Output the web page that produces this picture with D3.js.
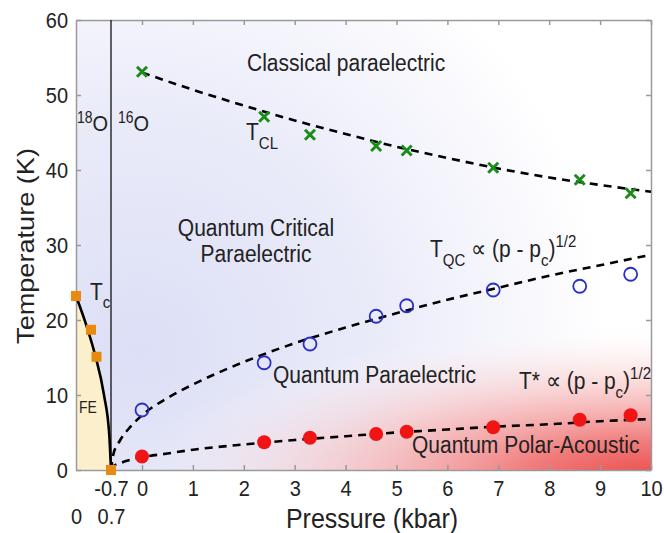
<!DOCTYPE html>
<html>
<head>
<meta charset="utf-8">
<script src="https://cdn.jsdelivr.net/npm/d3@7"></script>
<style>
  body { margin: 0; background: #fff; }
  text { font-family: "Liberation Sans", Arial, sans-serif; fill: #222; }
</style>
</head>
<body>
<div id="chart"></div>
<script>
// measured points (16O sample, pressure in kbar)
var pMeas = [0, 2.4, 3.3, 4.6, 5.2, 6.9, 8.6, 9.6];
var tCL   = [53.1, 47.1, 44.7, 43.2, 42.6, 40.3, 38.7, 36.9];
var tQC   = [8.0, 14.3, 16.8, 20.5, 21.9, 24.0, 24.5, 26.1];
var tStar = [1.8, 3.7, 4.3, 4.8, 5.1, 5.7, 6.7, 7.3];

// ferroelectric Tc points (18O side)
var pFE = [-1.4, -1.1, -0.99, -0.7];
var tFE = [23.2, 18.7, 15.1, 0];

// Tc boundary line
var pTcLine = [-1.4, -1.174, -1.02, -0.84, -0.734, -0.7];
var tTcLine = [23.2, 18.9, 15.4, 10, 4.6, 0];

// dashed guide curves
var pFitCL = [0, 1, 2, 3, 4, 5, 6, 7, 8, 9, 10];
var tFitCL = [53, 50.7, 48.6, 46.6, 44.8, 43.1, 41.6, 40.2, 39.0, 38.0, 37.1];
var pFit = [-0.7, -0.65, -0.5, -0.3, 0, 0.5, 1, 2, 3, 4, 5, 6, 7, 8, 9, 10];
var tFitQC = [0, 2.0, 3.9, 5.5, 7.3, 9.6, 11.4, 14.4, 16.9, 19.0, 20.9, 22.7, 24.3, 25.9, 27.3, 28.7];
var tFitStar = [0, 0.5, 0.9, 1.3, 1.7, 2.2, 2.7, 3.4, 4.0, 4.5, 5.0, 5.4, 5.8, 6.1, 6.5, 6.8];

var xTicks = [-0.7, 0, 1, 2, 3, 4, 5, 6, 7, 8, 9, 10];
var xTicks18 = [0, 0.7];
var yTicks = [0, 10, 20, 30, 40, 50, 60];

var w = 664, h = 533;
var mLeft = 76, mRight = 651, mTop = 20, mBottom = 470;
var stretch = 1.13; // text in the picture is a bit tall

var svg = d3.select("#chart").append("svg")
    .attr("width", w).attr("height", h);

// the 18O part is squeezed, so the scale is piecewise
var x = d3.scaleLinear().domain([-1.4, -0.7, 0, 10]).range([mLeft, 111, 142, mRight]);
var x18 = d3.scaleLinear().domain([0, 0.7]).range([mLeft, 111]);
var y = d3.scaleLinear().domain([0, 60]).range([mBottom, mTop]);

var defs = svg.append("defs");
defs.append("clipPath").attr("id", "plot")
    .append("rect").attr("x", mLeft).attr("y", mTop)
    .attr("width", mRight - mLeft).attr("height", mBottom - mTop);

var blue = defs.append("radialGradient").attr("id", "blue")
    .attr("gradientUnits", "userSpaceOnUse")
    .attr("cx", 140).attr("cy", 350).attr("r", 470);
blue.append("stop").attr("offset", "0%").attr("stop-color", "#dcdff6");
blue.append("stop").attr("offset", "50%").attr("stop-color", "#eaebf9");
blue.append("stop").attr("offset", "100%").attr("stop-color", "#ffffff");

var red = defs.append("radialGradient").attr("id", "red")
    .attr("gradientUnits", "userSpaceOnUse")
    .attr("cx", mRight).attr("cy", mBottom + 10).attr("r", 520)
    .attr("gradientTransform", "translate(" + mRight + "," + (mBottom + 10) + ") scale(1,0.3) translate(" + (-mRight) + "," + (-(mBottom + 10)) + ")");
red.append("stop").attr("offset", "0%").attr("stop-color", "#ec4848").attr("stop-opacity", 1);
red.append("stop").attr("offset", "25%").attr("stop-color", "#f07676").attr("stop-opacity", 0.95);
red.append("stop").attr("offset", "55%").attr("stop-color", "#f7b4b4").attr("stop-opacity", 0.7);
red.append("stop").attr("offset", "80%").attr("stop-color", "#fbdede").attr("stop-opacity", 0.35);
red.append("stop").attr("offset", "100%").attr("stop-color", "#ffffff").attr("stop-opacity", 0);

var bg = svg.append("g").attr("clip-path", "url(#plot)");
bg.append("rect").attr("x", mLeft).attr("y", mTop)
    .attr("width", mRight - mLeft).attr("height", mBottom - mTop)
    .attr("fill", "url(#blue)");
bg.append("rect").attr("x", mLeft).attr("y", mTop)
    .attr("width", mRight - mLeft).attr("height", mBottom - mTop)
    .attr("fill", "url(#red)");

// FE region under Tc line
var feArea = d3.area()
    .x(function(d){ return x(d[0]); })
    .y0(y(0))
    .y1(function(d){ return y(d[1]); })
    .curve(d3.curveMonotoneX);
bg.append("path")
    .datum(d3.zip(pTcLine, tTcLine))
    .attr("d", feArea)
    .attr("fill", "#fcefcb");

// axes (box with inward ticks)
function styleAxis(g){
    g.selectAll("path, line").attr("stroke", "#9a9a9a").attr("stroke-width", 1.5);
    g.selectAll("text").attr("fill", "#222").style("font-size", "20px")
        .style("font-family", "Liberation Sans, Arial, sans-serif")
        .attr("transform", "scale(1," + stretch + ")");
}
svg.append("g").attr("transform", "translate(0," + mBottom + ")")
    .call(d3.axisBottom(x).tickValues(xTicks).tickSizeInner(-5).tickSizeOuter(0).tickPadding(9)
        .tickFormat(function(d){ return d; }))
    .call(styleAxis);
svg.append("g").attr("transform", "translate(0," + mTop + ")")
    .call(d3.axisTop(x).tickValues(xTicks.slice(1)).tickSizeInner(-5).tickSizeOuter(0).tickFormat(""))
    .call(styleAxis);
svg.append("g").attr("transform", "translate(" + mLeft + ",0)")
    .call(d3.axisLeft(y).tickValues(yTicks).tickSizeInner(-5).tickSizeOuter(0).tickPadding(8))
    .call(styleAxis);
svg.append("g").attr("transform", "translate(" + mRight + ",0)")
    .call(d3.axisRight(y).tickValues(yTicks).tickSizeInner(-5).tickSizeOuter(0).tickFormat(""))
    .call(styleAxis);
var ax18 = svg.append("g").attr("transform", "translate(0," + (mBottom + 28) + ")")
    .call(d3.axisBottom(x18).tickValues(xTicks18).tickSize(0).tickPadding(9)
        .tickFormat(function(d){ return d; }))
    .call(styleAxis);
ax18.select(".domain").remove();

// vertical divider between 18O and 16O
svg.append("line")
    .attr("x1", x(-0.7)).attr("x2", x(-0.7))
    .attr("y1", y(0)).attr("y2", y(60))
    .attr("stroke", "#111").attr("stroke-width", 1.3);

var line = d3.line()
    .x(function(d){ return x(d[0]); })
    .y(function(d){ return y(d[1]); })
    .curve(d3.curveMonotoneX);

svg.append("path").datum(d3.zip(pTcLine, tTcLine))
    .attr("d", line).attr("fill", "none")
    .attr("stroke", "#000").attr("stroke-width", 2.6);

[[pFitCL, tFitCL], [pFit, tFitQC], [pFit, tFitStar]].forEach(function(f){
    svg.append("path").datum(d3.zip(f[0], f[1]))
        .attr("d", line).attr("fill", "none")
        .attr("stroke", "#000").attr("stroke-width", 2.6)
        .attr("stroke-dasharray", "8,6");
});

// markers
svg.selectAll(".fe").data(d3.zip(pFE, tFE)).enter().append("rect")
    .attr("x", function(d){ return x(d[0]) - 5; })
    .attr("y", function(d){ return y(d[1]) - 5; })
    .attr("width", 10).attr("height", 10)
    .attr("fill", "#e98a10");

svg.selectAll(".qc").data(d3.zip(pMeas, tQC)).enter().append("circle")
    .attr("cx", function(d){ return x(d[0]); })
    .attr("cy", function(d){ return y(d[1]); })
    .attr("r", 6.5).attr("fill", "none")
    .attr("stroke", "#2a2fc4").attr("stroke-width", 1.8);

svg.selectAll(".st").data(d3.zip(pMeas, tStar)).enter().append("circle")
    .attr("cx", function(d){ return x(d[0]); })
    .attr("cy", function(d){ return y(d[1]); })
    .attr("r", 7).attr("fill", "#f01414");

svg.selectAll(".cl").data(d3.zip(pMeas, tCL)).enter().append("path")
    .attr("transform", function(d){ return "translate(" + x(d[0]) + "," + y(d[1]) + ")"; })
    .attr("d", "M-5,-5L5,5M-5,5L5,-5")
    .attr("stroke", "#1b8c1b").attr("stroke-width", 3);

// labels
function label(px, py, size, anchor){
    return svg.append("text")
        .attr("transform", "translate(" + px + "," + py + ") scale(1," + stretch + ")")
        .attr("text-anchor", anchor || "start")
        .style("font-size", size + "px");
}
label(247, 71, 21).text("Classical paraelectric");

var o18 = label(77, 131, 20);
o18.append("tspan").attr("dy", -7).style("font-size", "14px").text("18");
o18.append("tspan").attr("dy", 7).text("O");
var o16 = label(118, 131, 20);
o16.append("tspan").attr("dy", -7).style("font-size", "14px").text("16");
o16.append("tspan").attr("dy", 7).text("O");

var tcl = label(246, 140, 21);
tcl.append("tspan").text("T");
tcl.append("tspan").attr("dy", 8).style("font-size", "15px").text("CL");

label(256, 236, 21, "middle").text("Quantum Critical");
label(256, 262, 21, "middle").text("Paraelectric");

var tc = label(90, 300, 21);
tc.append("tspan").text("T");
tc.append("tspan").attr("dy", 7).style("font-size", "15px").text("c");

var tqc = label(430, 257, 21);
tqc.append("tspan").text("T");
tqc.append("tspan").attr("dy", 8).style("font-size", "15px").text("QC");
tqc.append("tspan").attr("dy", -8).text(" \u221D (p - p");
tqc.append("tspan").attr("dy", 8).style("font-size", "15px").text("c");
tqc.append("tspan").attr("dy", -8).text(")");
tqc.append("tspan").attr("dy", -9).style("font-size", "15px").text("1/2");

label(273, 383, 21).text("Quantum Paraelectric");

var ts = label(519, 389, 21);
ts.append("tspan").text("T* \u221D (p - p");
ts.append("tspan").attr("dy", 8).style("font-size", "15px").text("c");
ts.append("tspan").attr("dy", -8).text(")");
ts.append("tspan").attr("dy", -9).style("font-size", "15px").text("1/2");

label(79, 413, 14).text("FE");
label(412, 453, 21).text("Quantum Polar-Acoustic");

label(372, 528, 25, "middle").text("Pressure (kbar)");
svg.append("text")
    .attr("transform", "translate(34,246) rotate(-90) scale(" + stretch + ",1)")
    .attr("text-anchor", "middle")
    .style("font-size", "24px")
    .text("Temperature (K)");
</script>
</body>
</html>
